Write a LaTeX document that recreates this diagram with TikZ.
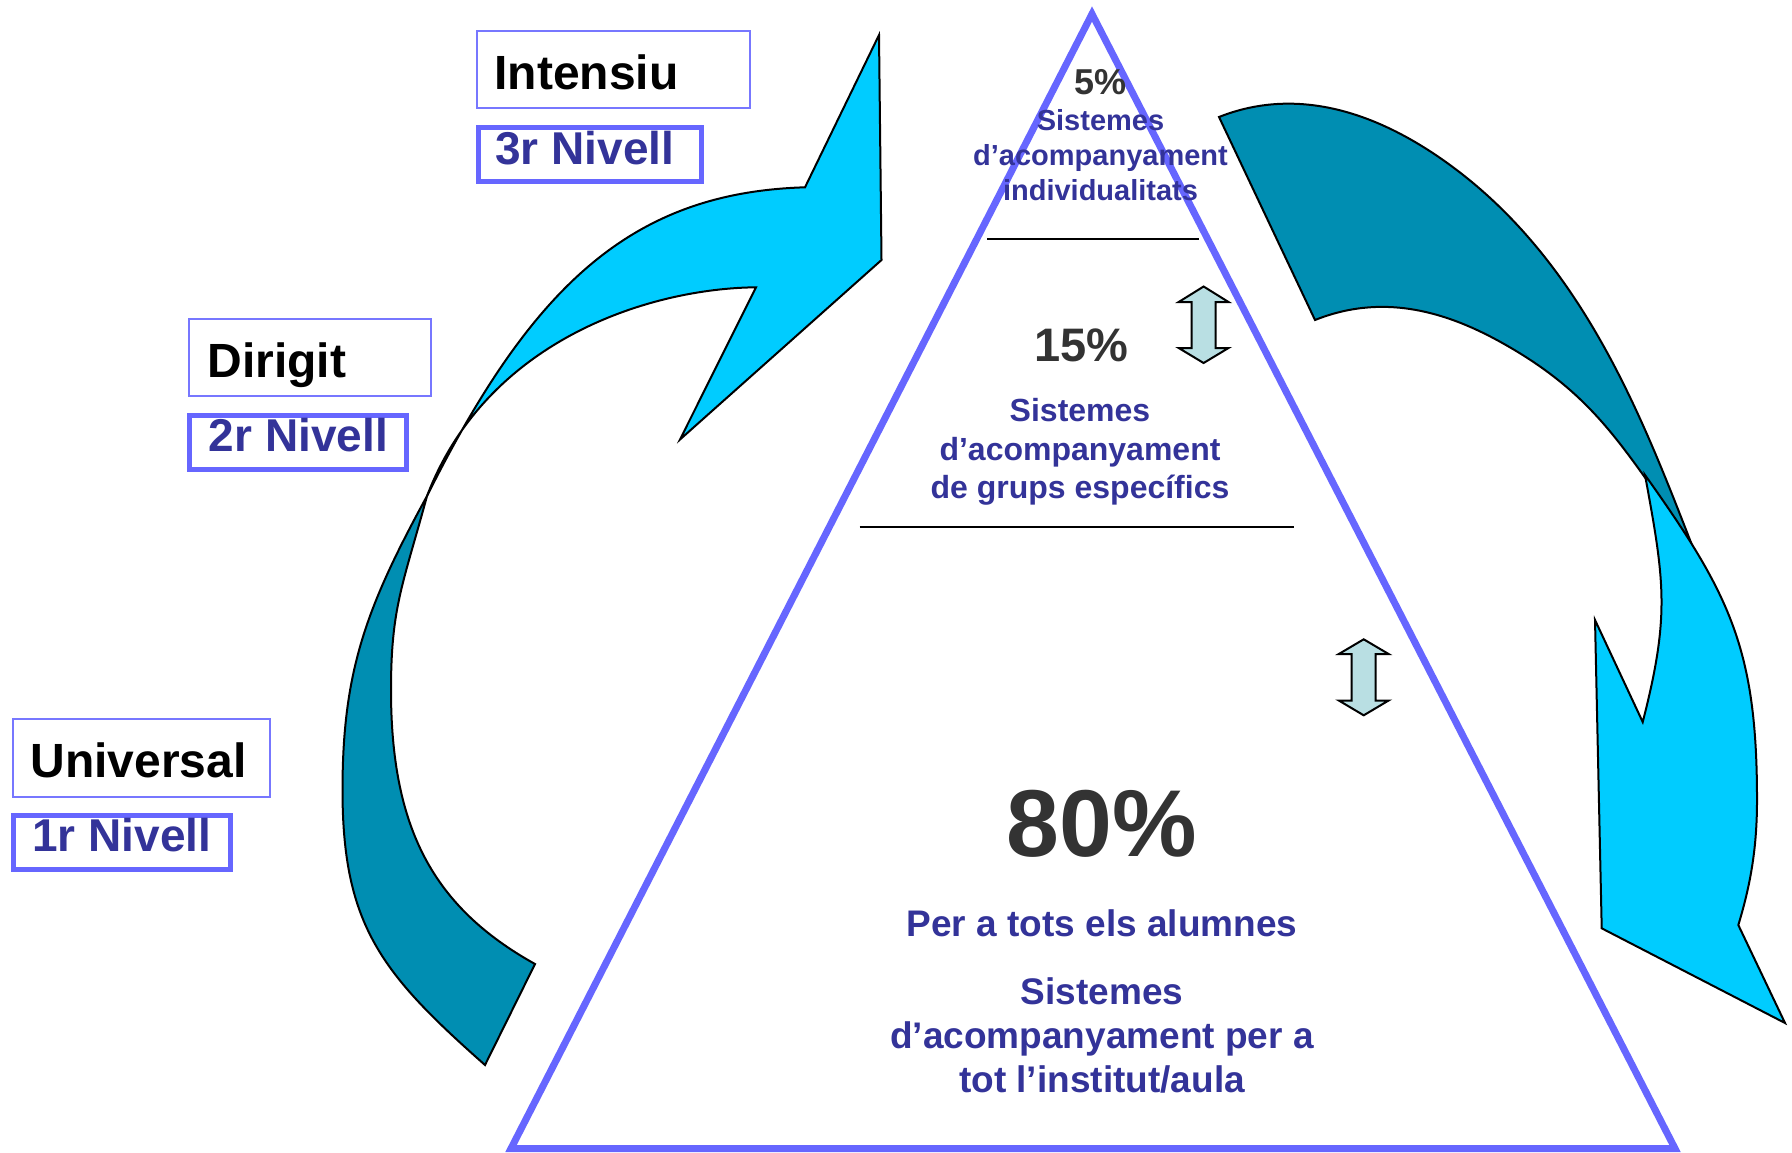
\documentclass[tikz,border=0pt]{standalone}
\usepackage{fontspec}
\setmainfont{Liberation Sans}
\definecolor{triblue}{RGB}{102,102,255}
\definecolor{boxblue}{RGB}{119,119,255}
\definecolor{navy}{RGB}{51,51,153}
\definecolor{pctgray}{RGB}{51,51,51}
\definecolor{cyanfill}{RGB}{0,204,255}
\definecolor{tealfill}{RGB}{0,142,178}
\definecolor{dblfill}{RGB}{185,223,227}
\tikzset{
  thinbox/.style={draw=boxblue, line width=1pt},
  thickbox/.style={draw=triblue, line width=2.5pt},
  lvltop/.style={inner sep=0pt, anchor=base west, text=black,
    font=\fontsize{24pt}{28pt}\selectfont\bfseries},
  lvlnum/.style={inner sep=0pt, anchor=base west, text=navy,
    font=\fontsize{23pt}{27pt}\selectfont\bfseries},
  ribbon/.style={draw=black, line width=1pt, line join=miter},
  dblarrow/.style={draw=black, line width=1pt, fill=dblfill, line join=miter},
  pct/.style={inner sep=0pt, anchor=base, text=pctgray},
  navytext/.style={inner sep=0pt, anchor=base, text=navy, align=center},
  sepline/.style={draw=black, line width=1pt}
}
\begin{document}
\begin{tikzpicture}[x=0.5pt,y=-0.5pt]
\useasboundingbox (0,0) rectangle (1792,1152);
\fill[white] (0,0) rectangle (1792,1152);

% left curved arrow (dark back part, then cyan front part)
\filldraw[ribbon, fill=tealfill] (427,496) .. controls (366.3,607.2) and (342.5,670.8) .. (342.5,790)
  .. controls (342.5,925.5) and (381.6,973.5) .. (485,1065) -- (535,964)
  .. controls (433.7,907.5) and (391,829.2) .. (391,690)
  .. controls (391,606.6) and (403,584.8) .. (427,496) -- cycle;
\filldraw[ribbon, fill=cyanfill] (427,496) .. controls (531.8,286.4) and (631,192.5) .. (805,187.3)
  -- (879,35) -- (881.5,260) -- (680,439.5) -- (756,287.3)
  .. controls (651.8,288.3) and (487.2,338.5) .. (427,496) -- cycle;

% right curved arrow
\filldraw[ribbon, fill=tealfill] (1219,117) .. controls (1289.2,89.1) and (1367.7,104.9) .. (1450,165)
  .. controls (1581.2,260.8) and (1640.7,413.5) .. (1690,540)
  .. controls (1624.1,452.1) and (1599.3,396.5) .. (1500,341.7)
  .. controls (1441.5,309.4) and (1380.2,294) .. (1315,320) -- cycle;
\filldraw[ribbon, fill=cyanfill] (1645,475) .. controls (1730.3,594.7) and (1757,649.6) .. (1757,800)
  .. controls (1757,845) and (1751.4,882) .. (1738.3,925) -- (1785,1023) -- (1601.7,928.3)
  -- (1595,620) -- (1642.7,722) .. controls (1670.1,615.4) and (1664.6,581.7) .. (1645,475) -- cycle;

% pyramid
\draw[triblue, line width=3.5pt, line join=miter] (1092,14) -- (1675,1148.5) -- (511,1148.5) -- cycle;
\draw[sepline] (987,239) -- (1198.5,239);
\draw[sepline] (859.5,527) -- (1294,527);

% double arrows
\filldraw[dblarrow] (1203.6,286.5) -- (1228.5,302) -- (1215.6,302) -- (1215.6,348) -- (1228.5,348)
  -- (1203.6,363) -- (1178.7,348) -- (1191.6,348) -- (1191.6,302) -- (1178.7,302) -- cycle;
\filldraw[dblarrow] (1363.7,639.3) -- (1388.6,654) -- (1375.7,654) -- (1375.7,700.5) -- (1388.6,700.5)
  -- (1363.7,715.3) -- (1338.8,700.5) -- (1351.7,700.5) -- (1351.7,654) -- (1338.8,654) -- cycle;

% level boxes
\draw[thinbox] (476.7,30.7) rectangle (749.7,108.3);
\draw[thickbox] (478,127.5) rectangle (701.5,181.5);
\draw[thinbox] (188.7,318.5) rectangle (431,396.2);
\draw[thickbox] (189.2,415.3) rectangle (406.5,469.9);
\draw[thinbox] (12.7,719.2) rectangle (270.3,796.5);
\draw[thickbox] (13.2,815.5) rectangle (230.2,869.1);

\node[lvltop] (intensiu) at (494,89) {Intensiu};
\node[lvlnum] (nivell3) at (495,164) {3r Nivell};
\node[lvltop] (dirigit) at (207,377.7) {Dirigit};
\node[lvlnum] (nivell2) at (208.5,451.7) {2r Nivell};
\node[lvltop] (universal) at (30,777.3) {Universal};
\node[lvlnum] (nivell1) at (32,851) {1r Nivell};

% pyramid texts (multi-line nodes: base anchor is the last line)
\node[pct, font=\fontsize{18pt}{21pt}\selectfont\bfseries] (p5) at (1100.5,94) {5\%};
\node[navytext, font=\fontsize{14.5pt}{17.5pt}\selectfont\bfseries] (t5) at (1100.5,200)
  {Sistemes\\d’acompanyament\\individualitats};
\node[pct, font=\fontsize{23.5pt}{27pt}\selectfont\bfseries] (p15) at (1081.5,361) {15\%};
\node[navytext, font=\fontsize{16pt}{19.15pt}\selectfont\bfseries] (t15) at (1080,498.3)
  {Sistemes\\d’acompanyament\\de grups específics};
\node[pct, font=\fontsize{47.5pt}{55pt}\selectfont\bfseries] (p80) at (1102,856.7) {80\%};
\node[navytext, font=\fontsize{18.5pt}{22pt}\selectfont\bfseries] (t80a) at (1102,936)
  {Per a tots els alumnes};
\node[navytext, font=\fontsize{18.5pt}{22pt}\selectfont\bfseries] (t80b) at (1102,1092.7)
  {Sistemes\\d’acompanyament per a\\tot l’institut/aula};
\end{tikzpicture}
\end{document}
